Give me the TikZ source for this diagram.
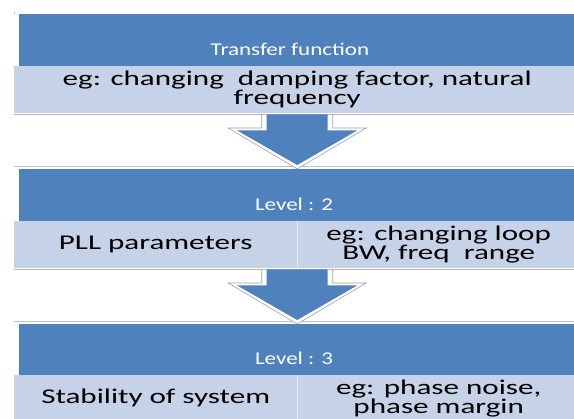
\documentclass[tikz,border=0pt]{standalone}
\usepackage{fontspec}
\setmainfont{Carlito}
\newfontfamily\headfont[FakeStretch=1.28]{Carlito}
\newfontfamily\bodyfont[FakeStretch=1.48]{Carlito}
\usetikzlibrary{calc}

\definecolor{levelblue}{RGB}{79,129,189}
\definecolor{levellight}{RGB}{198,210,232}
\definecolor{rimgray}{RGB}{160,160,160}

\tikzset{
    levelhead/.style={rectangle, fill=levelblue, draw=none, anchor=north west, inner sep=0pt, minimum width=561pt, minimum height=52pt},
    headtext/.style={text=white, inner sep=0pt, font=\headfont\fontsize{18}{20}\selectfont},
    levelband/.style={rectangle, fill=levellight, draw=none, anchor=north west, inner sep=0pt, minimum height=47pt, align=center, font=\bodyfont\fontsize{21}{19}\selectfont},
    shadowline/.style={draw=rimgray!80, line width=1pt},
    rimline/.style={draw=rimgray!70, line width=0.6pt},
    divider/.style={draw=white!55!levellight, line width=1.5pt},
    arrowrim/.style={draw=rimgray, fill=white, line width=0.6pt},
    arrowfill/.style={fill=levelblue, draw=none},
}

% block arrow from the band of one level down to the header of the next
\newcommand\levelarrow[2]{%
    \draw[arrowrim] let \p1=(#1.south), \p2=(#2.north) in
        (\x1-35.5pt,\y1-1pt) -- (\x1+35.5pt,\y1-1pt) -- (\x1+35.5pt,\y2+41pt) -- (\x1+69pt,\y2+41pt)
        -- (\x1,\y2) -- (\x1-69pt,\y2+41pt) -- (\x1-35.5pt,\y2+41pt) -- cycle;
    \fill[arrowfill] let \p1=(#1.south), \p2=(#2.north) in
        (\x1-30.5pt,\y1-1pt) -- (\x1+30.5pt,\y1-1pt) -- (\x1+30.5pt,\y2+38.5pt) -- (\x1+60pt,\y2+38.5pt)
        -- (\x1,\y2+4pt) -- (\x1-60pt,\y2+38.5pt) -- (\x1-30.5pt,\y2+38.5pt) -- cycle;
}

\begin{document}
\begin{tikzpicture}[x=1pt, y=-1pt]
    \clip (0,0) rectangle (574,419);
    \fill[white] (0,0) rectangle (574,419);

    % level 1
    \node[levelhead] (head1) at (19,14) {};
    \node[headtext] (title1) at (290,49) {Transfer function};
    \node[levelband, minimum width=566pt] (band1) at (14,66) {eg: changing~~damping factor, natural\\frequency};
    \draw[shadowline] ($(band1.south west)+(0,1)$) -- ($(band1.south east)+(0,1)$);
    \draw[rimline] (14,12) -- (14,14);

    % level 2
    \node[levelhead] (head2) at (19,169) {};
    \draw[rimline] ($(band1.west |- head2.north)+(0,-3)$) -- ($(head2.north east)+(0,-3)$);
    \node[headtext] (title2) at (294,204) {Level : 2};
    \node[levelband, minimum width=283pt] (param2) at (14,221) {PLL parameters};
    \node[levelband, minimum width=283pt] (eg2) at (297,221) {eg: changing loop\\BW, freq~~range};
    \draw[divider] (param2.north east) -- (param2.south east);
    \coordinate (band2) at ($(param2.south west)!0.5!(eg2.south east)$);
    \draw[shadowline] ($(param2.south west)+(0,1)$) -- ($(eg2.south east)+(0,1)$);

    % level 3
    \node[levelhead, minimum height=51pt] (head3) at (19,324) {};
    \draw[rimline] ($(band1.west |- head3.north)+(0,-3)$) -- ($(head3.north east)+(0,-3)$);
    \node[headtext] (title3) at (294,358) {Level : 3};
    \node[levelband, minimum width=283pt, minimum height=46pt] (param3) at (14,375) {Stability of system};
    \node[levelband, minimum width=283pt, minimum height=46pt] (eg3) at (297,375) {eg: phase noise,\\phase margin};
    \draw[divider] (param3.north east) -- (param3.south east);

    % arrows between the levels
    \levelarrow{band1}{head2}
    \levelarrow{band2}{head3}
\end{tikzpicture}
\end{document}
